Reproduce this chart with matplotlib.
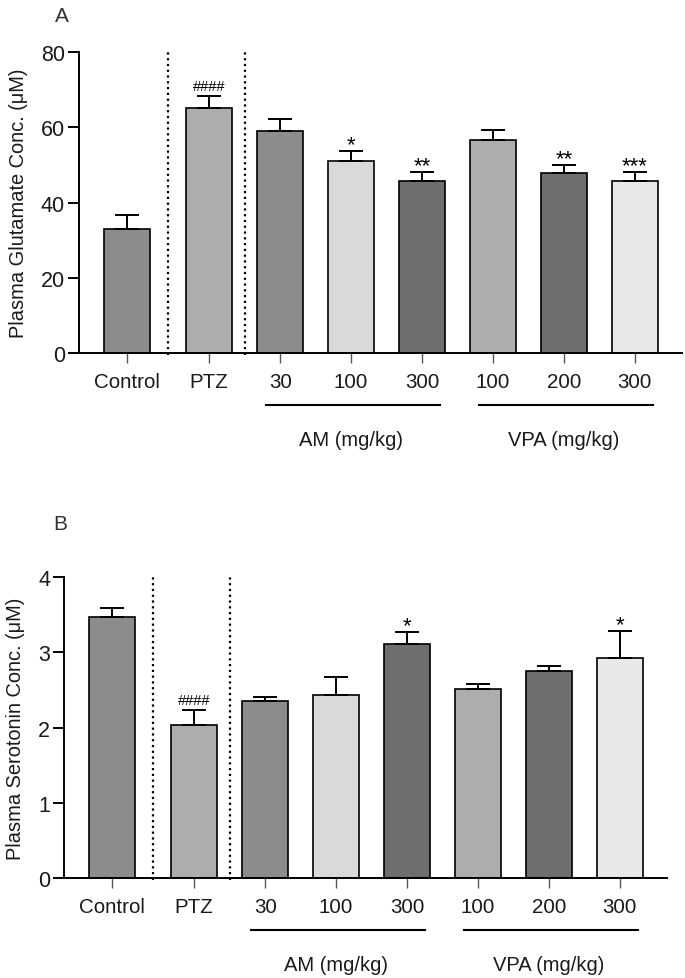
import numpy as np
import matplotlib
matplotlib.use("Agg")
import matplotlib.pyplot as plt
import matplotlib.transforms as mtransforms

plt.rcParams['font.family'] = ['Liberation Sans', 'DejaVu Sans']

# ---------------- data ----------------
categories = ["Control", "PTZ", "30", "100", "300", "100", "200", "300"]
group_names = ["AM (mg/kg)", "VPA (mg/kg)"]

glutamate_mean = [33.0, 65.2, 59.1, 51.1, 45.8, 56.5, 47.8, 45.6]
glutamate_sem = [3.7, 3.2, 3.2, 2.5, 2.4, 2.9, 2.2, 2.5]
glutamate_sig = ["", "####", "", "*", "**", "", "**", "***"]

serotonin_mean = [3.47, 2.03, 2.35, 2.43, 3.11, 2.51, 2.75, 2.93]
serotonin_sem = [0.12, 0.21, 0.06, 0.24, 0.16, 0.07, 0.07, 0.36]
serotonin_sig = ["", "####", "", "", "*", "", "", "*"]

bar_colors = ["#8c8c8c", "#adadad", "#8c8c8c", "#d9d9d9",
              "#6e6e6e", "#adadad", "#6e6e6e", "#e8e8e8"]

# ---------------- layout ----------------
W, H = 685, 979
fig = plt.figure(figsize=(W / 100, H / 100), dpi=100)

idx = np.arange(len(categories))
pos = idx + np.where(idx >= 1, 0.16, 0.0)
bar_w = 0.65
xlim = (pos[0] - 0.676, pos[-1] + 0.665)
sep_x = [(pos[0] + pos[1]) / 2, (pos[1] + pos[2]) / 2]
groups = [(2, 4), (5, 7)]


def panel(rect, means, sems, sigs, ymax, yticks, ylabel, letter, letter_xy, ylabel_x):
    ax = fig.add_axes(rect)
    ax.bar(pos, means, width=bar_w, color=bar_colors, edgecolor="black",
           linewidth=1.2, zorder=2)
    ax.errorbar(pos, means, yerr=[np.zeros(len(means)), sems], fmt="none",
                ecolor="black", elinewidth=1.4, capsize=8.5, capthick=1.4, zorder=3)
    ax.set_xlim(*xlim)
    ax.set_ylim(0, ymax)
    ax.set_yticks(yticks)
    ax.set_xticks(pos)
    ax.set_xticklabels(categories)
    for s in ["top", "right"]:
        ax.spines[s].set_visible(False)
    for s in ["left", "bottom"]:
        ax.spines[s].set_linewidth(1.4)
    ax.tick_params(axis="y", length=8, width=1.4, pad=2, labelsize=15.5,
                   labelcolor="#1a1a1a")
    ax.tick_params(axis="x", length=7, width=1.0, pad=7, labelsize=14.8,
                   color="#555555", labelcolor="#1a1a1a")
    ax.set_ylabel(ylabel, fontsize=14.4, color="#1a1a1a")
    ax.yaxis.set_label_coords(ylabel_x, 0.5)
    for x in sep_x:
        ax.axvline(x, ymin=-0.005, ymax=1.0, color="black", linestyle=(0, (1, 1.6)),
                   linewidth=1.6, clip_on=False, zorder=1)
    # significance marks
    for p, m, e, s in zip(pos, means, sems, sigs):
        if not s:
            continue
        if s.startswith("#"):
            ax.annotate(s, (p, m + e), xytext=(0, 3.8), textcoords="offset points",
                        ha="center", va="baseline", fontsize=10.5)
        else:
            ax.annotate(s, (p, m + e), xytext=(0, 0.5), textcoords="offset points",
                        ha="center", va="baseline", fontsize=16)
    # group lines and labels
    trans = mtransforms.blended_transform_factory(ax.transData, ax.transAxes)
    for (a, b), name in zip(groups, group_names):
        ax.plot([pos[a] - 0.2, pos[b] + 0.26], [-0.173, -0.173], color="black",
                linewidth=1.5, transform=trans, clip_on=False)
        ax.text((pos[a] + pos[b]) / 2, -0.286, name, transform=trans,
                ha="center", va="center", fontsize=14.5, color="#1a1a1a")
    fig.text(letter_xy[0] / W, 1 - letter_xy[1] / H, letter, ha="center",
             va="center", fontsize=15, color="#333333")
    return ax


panel([79 / W, 1 - 354 / H, 603 / W, 301 / H], glutamate_mean, glutamate_sem,
      glutamate_sig, 80, [0, 20, 40, 60, 80],
      "Plasma Glutamate Conc. (\u03bcM)", "A", (62, 16), -0.085)

panel([64 / W, 1 - 879 / H, 603 / W, 300.7 / H], serotonin_mean, serotonin_sem,
      serotonin_sig, 4, [0, 1, 2, 3, 4],
      "Plasma Serotonin Conc. (\u03bcM)", "B", (60, 525), -0.065)

fig.savefig("out.png", dpi=100)
